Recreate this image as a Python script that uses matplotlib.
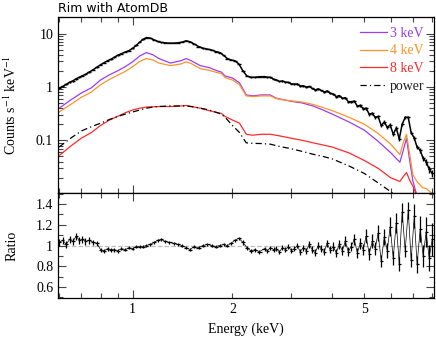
import matplotlib
matplotlib.use("Agg")
import matplotlib.pyplot as plt
import matplotlib.ticker as mticker
import numpy as np

plt.rcParams['font.family'] = 'Liberation Serif'
plt.rcParams['mathtext.fontset'] = 'stix'

# model curves (keV, counts/s/keV)
e_mod = [0.60, 0.65, 0.70, 0.75, 0.80, 0.85, 0.90, 0.95, 1.00, 1.05, 1.10, 1.15,
         1.20, 1.30, 1.40, 1.45, 1.50, 1.60, 1.70, 1.80, 1.85, 1.90, 2.00, 2.10,
         2.20, 2.30, 2.45, 2.60, 2.70, 2.80, 3.00, 3.25, 3.50, 3.75, 4.00, 4.50,
         5.00, 5.50, 6.00, 6.40, 6.55, 6.70, 6.85, 7.00, 7.20, 7.50, 7.70, 7.90, 8.10]
kev3 = [0.40, 0.57, 0.77, 0.96, 1.35, 1.68, 2.0, 2.4, 2.96, 3.8, 4.4, 4.0,
        3.4, 2.8, 3.1, 3.4, 3.1, 2.5, 2.3, 2.0, 1.9, 1.6, 1.47, 1.19,
        0.71, 0.68, 0.71, 0.71, 0.62, 0.59, 0.54, 0.50, 0.44, 0.37, 0.31, 0.22,
        0.155, 0.096, 0.059, 0.039, 0.065, 0.109, 0.042, 0.0176, 0.0093, 0.005, 0.004, 0.003, 0.002]
kev4 = [0.34, 0.47, 0.64, 0.80, 1.1, 1.38, 1.65, 1.95, 2.4, 3.0, 3.4, 3.2,
        2.8, 2.5, 2.7, 2.95, 2.75, 2.2, 2.05, 1.85, 1.8, 1.5, 1.35, 1.1,
        0.68, 0.66, 0.68, 0.68, 0.61, 0.58, 0.55, 0.52, 0.47, 0.41, 0.36, 0.27,
        0.20, 0.135, 0.085, 0.054, 0.09, 0.13, 0.055, 0.023, 0.017, 0.013, 0.0125, 0.0108, 0.0095]
kev8 = [0.052, 0.078, 0.11, 0.14, 0.19, 0.24, 0.28, 0.33, 0.37, 0.40, 0.42, 0.425,
        0.43, 0.43, 0.44, 0.45, 0.43, 0.40, 0.36, 0.33, 0.32, 0.28, 0.24, 0.21,
        0.13, 0.125, 0.13, 0.13, 0.125, 0.12, 0.11, 0.10, 0.09, 0.082, 0.075, 0.058,
        0.042, 0.030, 0.020, 0.017, 0.021, 0.025, 0.018, 0.014, 0.009, 0.005, 0.004, 0.003, 0.002]
power = [0.075, 0.11, 0.15, 0.18, 0.21, 0.245, 0.28, 0.31, 0.34, 0.37, 0.40, 0.42,
         0.43, 0.44, 0.44, 0.44, 0.43, 0.40, 0.37, 0.33, 0.31, 0.27, 0.19, 0.14,
         0.09, 0.088, 0.087, 0.085, 0.08, 0.076, 0.07, 0.062, 0.055, 0.05, 0.045, 0.033,
         0.024, 0.016, 0.011, 0.008, 0.007, 0.006, 0.005, 0.004, 0.003, 0.002, 0.002, 0.002, 0.002]

# data (bin centres, counts, ratio, relative error)
e_dat = [0.600, 0.615, 0.630, 0.645, 0.660, 0.675, 0.690, 0.705, 0.720, 0.740,
         0.760, 0.780, 0.800, 0.820, 0.840, 0.860, 0.880, 0.900, 0.925, 0.950,
         0.975, 1.000, 1.025, 1.050, 1.075, 1.100, 1.130, 1.160, 1.190, 1.220,
         1.250, 1.290, 1.330, 1.370, 1.410, 1.450, 1.490, 1.530, 1.580, 1.630,
         1.680, 1.730, 1.780, 1.830, 1.880, 1.930, 1.980, 2.030, 2.090, 2.150,
         2.210, 2.270, 2.340, 2.410,
         2.50, 2.55, 2.60, 2.66, 2.71, 2.77, 2.83, 2.89, 2.95, 3.01,
         3.07, 3.14, 3.20, 3.27, 3.34, 3.41, 3.48, 3.55, 3.63, 3.70,
         3.78, 3.86, 3.94, 4.03, 4.11, 4.20, 4.29, 4.38, 4.47, 4.56,
         4.66, 4.76, 4.86, 4.96, 5.06, 5.17, 5.28, 5.39, 5.50, 5.62,
         5.74, 5.86, 5.98, 6.11, 6.24, 6.37, 6.50, 6.64, 6.78, 6.92,
         7.07, 7.21, 7.37, 7.52, 7.68, 7.84, 8.01]
counts = [0.95, 1.02, 1.12, 1.22, 1.30, 1.42, 1.52, 1.62, 1.72, 1.90,
          2.10, 2.35, 2.60, 2.85, 3.10, 3.30, 3.60, 3.90, 4.20, 4.50,
          4.80, 5.30, 6.00, 6.90, 7.80, 8.40, 8.20, 7.60, 7.10, 6.80,
          6.70, 6.60, 6.60, 6.70, 6.90, 7.30, 7.00, 6.40, 5.70, 5.30,
          5.10, 4.90, 4.60, 4.40, 3.90, 3.40, 3.20, 3.10, 2.70, 2.00,
          1.60, 1.52, 1.52, 1.55,
          1.56, 1.52, 1.52, 1.40, 1.35, 1.27, 1.29, 1.23, 1.22, 1.14,
          1.13, 1.13, 1.04, 1.05, 0.99, 1.02, 0.94, 0.88, 0.92, 0.86,
          0.80, 0.84, 0.76, 0.73, 0.66, 0.69, 0.61, 0.63, 0.53, 0.53,
          0.54, 0.44, 0.45, 0.39, 0.40, 0.31, 0.32, 0.27, 0.28, 0.19,
          0.22, 0.176, 0.195, 0.13, 0.17, 0.106, 0.20, 0.27, 0.27, 0.14,
          0.11, 0.075, 0.065, 0.046, 0.040, 0.029, 0.024]
ratio = [1.03, 1.05, 1.01, 1.06, 1.04, 1.09, 1.05, 1.06, 1.04, 1.05,
         1.03, 1.02, 0.96, 0.95, 0.97, 0.96, 0.96, 0.95, 0.97, 0.96,
         0.98, 0.97, 0.99, 0.99, 0.99, 1.00, 1.01, 1.03, 1.05, 1.06,
         1.04, 1.03, 1.02, 1.01, 1.00, 0.98, 0.96, 0.99, 0.98, 1.00,
         1.01, 1.00, 0.99, 1.00, 1.01, 1.00, 1.02, 1.05, 1.07, 1.03,
         0.98, 0.95, 0.96, 0.94,
         0.97, 0.95, 0.98, 0.96, 0.97, 0.94, 0.98, 0.96, 0.99, 0.95,
         0.97, 1.00, 0.94, 0.98, 0.95, 1.01, 0.96, 0.93, 1.00, 0.97,
         0.94, 1.02, 0.96, 0.99, 0.93, 1.01, 0.95, 1.04, 0.94, 0.99,
         1.06, 0.93, 1.02, 0.96, 1.09, 0.92, 1.04, 0.97, 1.12, 0.85,
         1.08, 0.95, 1.18, 0.88, 1.22, 0.82, 1.32, 0.95, 1.34, 0.86,
         1.28, 0.82, 1.16, 0.90, 1.13, 0.88, 1.06]
rel_err = [0.03, 0.03, 0.03, 0.03, 0.03, 0.03, 0.03, 0.03, 0.03, 0.03,
           0.025, 0.025, 0.02, 0.02, 0.02, 0.02, 0.02, 0.02, 0.015, 0.015,
           0.015, 0.015, 0.012, 0.012, 0.012, 0.012, 0.012, 0.012, 0.012, 0.012,
           0.012, 0.012, 0.012, 0.012, 0.012, 0.012, 0.012, 0.012, 0.012, 0.012,
           0.015, 0.015, 0.015, 0.015, 0.015, 0.015, 0.015, 0.015, 0.015, 0.02,
           0.02, 0.02, 0.02, 0.02,
           0.02, 0.02, 0.02, 0.022, 0.022, 0.022, 0.025, 0.025, 0.025, 0.025,
           0.028, 0.028, 0.03, 0.03, 0.03, 0.032, 0.032, 0.034, 0.034, 0.035,
           0.036, 0.037, 0.038, 0.04, 0.04, 0.042, 0.044, 0.045, 0.046, 0.048,
           0.05, 0.052, 0.055, 0.058, 0.06, 0.062, 0.065, 0.065, 0.068, 0.07,
           0.072, 0.075, 0.078, 0.08, 0.08, 0.08, 0.07, 0.06, 0.06, 0.08,
           0.09, 0.10, 0.11, 0.12, 0.13, 0.14, 0.15]

e_dat = np.array(e_dat)
counts = np.array(counts)
ratio = np.array(ratio)
rel_err = np.array(rel_err)

# bin half widths from neighbouring centres
edges = np.sqrt(e_dat[1:] * e_dat[:-1])
edges = np.concatenate([[e_dat[0] ** 2 / edges[0]], edges, [e_dat[-1] ** 2 / edges[-1]]])
xerr = [e_dat - edges[:-1], edges[1:] - e_dat]

fig = plt.figure(figsize=(4.36, 3.37), dpi=100)
ax1 = fig.add_axes([0.133, 0.427, 0.862, 0.523])
ax2 = fig.add_axes([0.133, 0.116, 0.862, 0.311], sharex=ax1)

ax1.errorbar(e_dat, counts, xerr=xerr, yerr=counts * rel_err, fmt='none',
             ecolor='black', elinewidth=1.0, capsize=0)
ax1.plot(e_dat, counts, color='black', lw=1.1)
ax1.plot(e_mod, kev3, color='#9b3cf5', lw=0.9, label='3 keV')
ax1.plot(e_mod, kev4, color='#ff9326', lw=0.9, label='4 keV')
ax1.plot(e_mod, kev8, color='#ff2a2a', lw=0.9, label='8 keV')
ax1.plot(e_mod, power, color='black', lw=0.9, ls=(0, (5, 2.5, 1, 2.5)), label='power')

ax1.set_xscale('log')
ax1.set_yscale('log')
ax1.set_xlim(0.595, 8.1)
ax1.set_ylim(0.0103, 20.5)
ax1.set_ylabel('Counts s$^{-1}$ keV$^{-1}$', fontsize=10)
ax1.yaxis.set_label_coords(-0.105, 0.5)

leg = ax1.legend(loc='upper right', frameon=False, fontsize=10, handlelength=1.9,
                 handletextpad=0.2, labelspacing=0.35, borderaxespad=0.3,
                 labelcolor='linecolor')
leg.get_texts()[3].set_color('#222222')

ax2.errorbar(e_dat, ratio, xerr=xerr, yerr=ratio * rel_err, fmt='none',
             ecolor='black', elinewidth=0.9, capsize=0)
ax2.plot(e_dat, ratio, color='black', lw=0.5)
ax2.axhline(1.0, color='0.75', ls='--', lw=0.9, zorder=0)
ax2.set_ylim(0.495, 1.505)
ax2.set_ylabel('Ratio', fontsize=10)
ax2.yaxis.set_label_coords(-0.105, 0.5)
ax2.set_xlabel('Energy (keV)', fontsize=10)

ax2.xaxis.set_major_locator(mticker.FixedLocator([1]))
ax2.xaxis.set_minor_locator(mticker.FixedLocator([0.6, 0.7, 0.8, 0.9, 2, 3, 4, 5, 6, 7, 8]))
ax2.xaxis.set_major_formatter(mticker.FixedFormatter(['1']))
ax2.xaxis.set_minor_formatter(mticker.FuncFormatter(lambda v, p: '%d' % v if v in (2, 5) else ''))
plt.setp(ax1.get_xticklabels(which='both'), visible=False)

ax1.yaxis.set_major_locator(mticker.FixedLocator([0.1, 1, 10]))
ax1.yaxis.set_major_formatter(mticker.FixedFormatter(['0.1', '1', '10']))
ax1.yaxis.set_minor_locator(mticker.LogLocator(base=10, subs=np.arange(2, 10)))
ax1.yaxis.set_minor_formatter(mticker.NullFormatter())

ax2.yaxis.set_major_locator(mticker.FixedLocator([0.6, 0.8, 1.0, 1.2, 1.4]))
ax2.yaxis.set_major_formatter(mticker.FixedFormatter(['0.6', '0.8', '1', '1.2', '1.4']))
ax2.yaxis.set_minor_locator(mticker.MultipleLocator(0.1))

for ax in (ax1, ax2):
    ax.tick_params(which='both', direction='in', top=True, right=True, labelsize=10,
                   width=0.8, color='#444444')
    ax.tick_params(which='major', length=6)
    ax.tick_params(which='minor', length=3.5)
    for s in ax.spines.values():
        s.set_linewidth(0.9)
ax2.tick_params(axis='x', which='both', pad=4)

fig.text(0.133, 0.963, 'Rim with AtomDB', family='DejaVu Sans', fontsize=9,
         va='baseline', ha='left')

fig.savefig('out.png', dpi=100)
